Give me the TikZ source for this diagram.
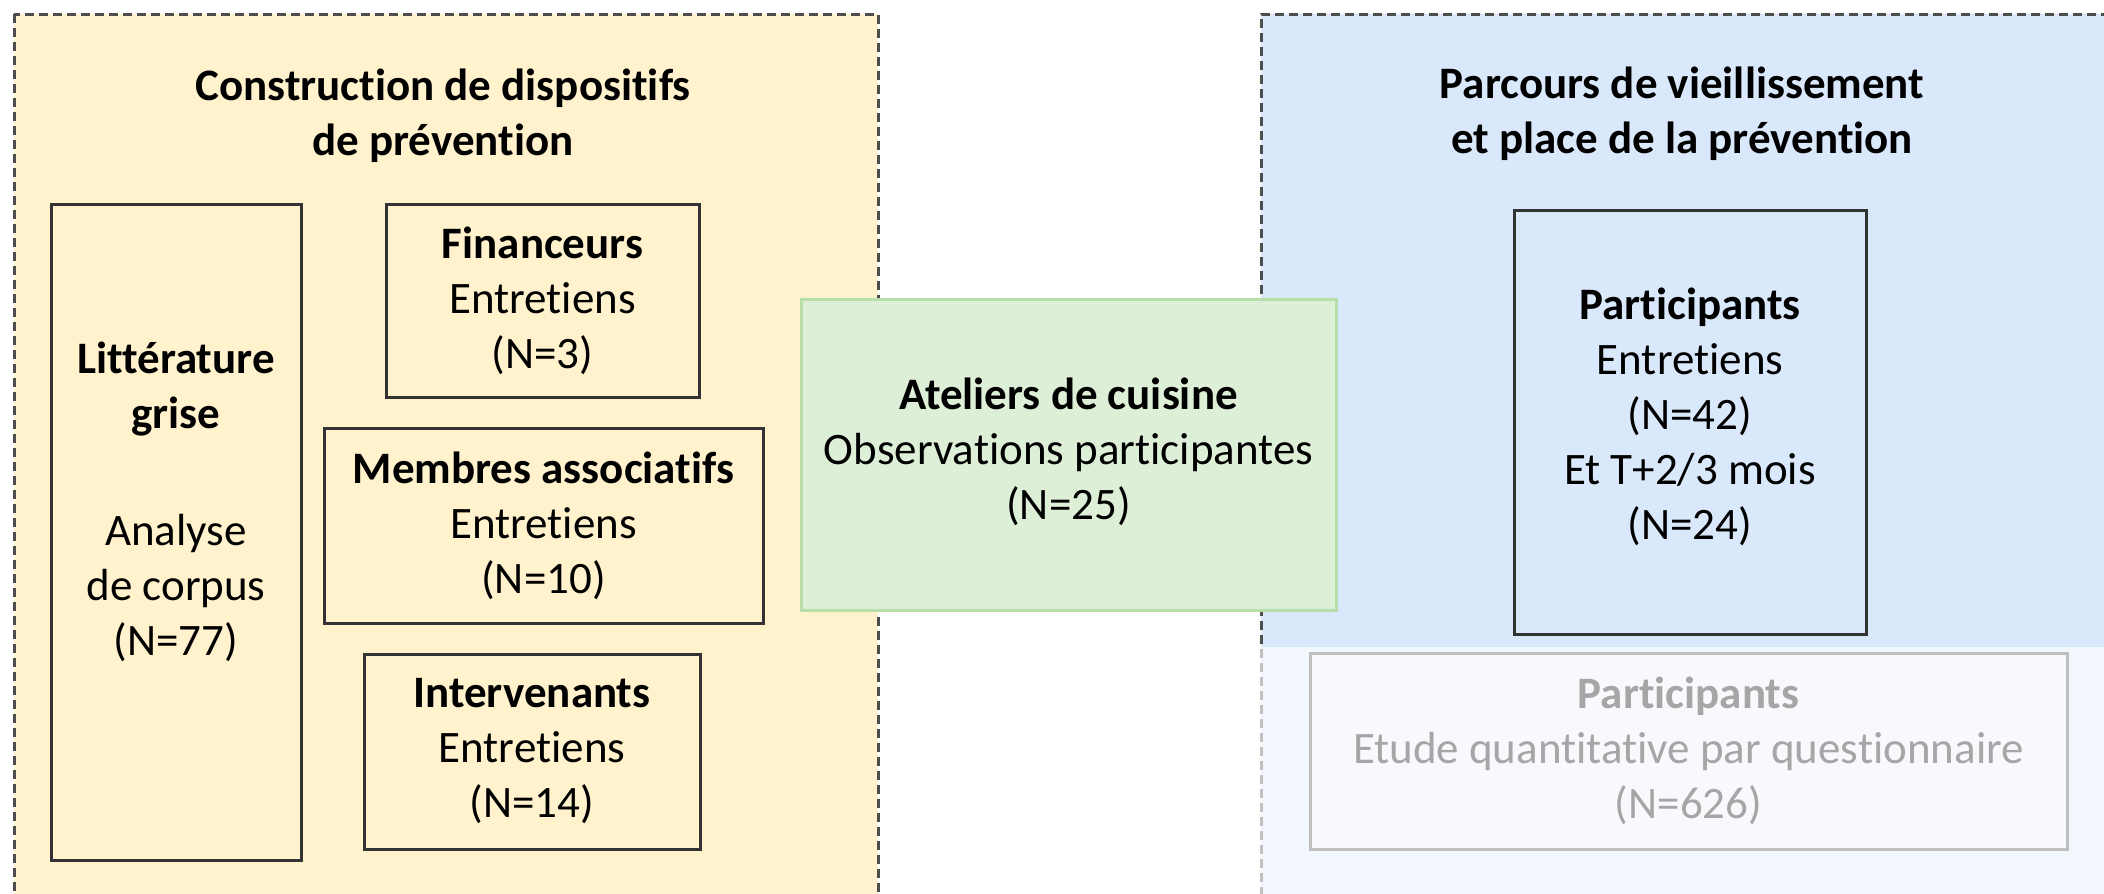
\documentclass[tikz,border=0pt]{standalone}
\usepackage{fontspec}
\setmainfont{Carlito}[Ligatures={NoCommon,NoRare}]
\definecolor{yel}{HTML}{FFF2CC}
\definecolor{blu}{HTML}{DAE8FC}
\definecolor{grnfill}{HTML}{DDEFD6}
\definecolor{grnline}{HTML}{B7DDA8}
\definecolor{dashc}{HTML}{4D4D4D}
\definecolor{boxc}{HTML}{333333}
\definecolor{fadeline}{HTML}{BFBFBF}
\definecolor{fadetext}{HTML}{A6A6A6}
\definecolor{fadefill}{HTML}{F7F9FC}
\tikzset{
  txt/.style={font=\fontsize{45}{55}\selectfont, align=center, inner sep=0pt},
  titletxt/.style={txt, font=\fontsize{45}{55}\selectfont\bfseries},
  zone/.style={draw=dashc, line width=3pt, dash pattern=on 9pt off 5pt},
  framebox/.style={txt, draw=boxc, line width=3pt},
  greenbox/.style={txt, draw=grnline, fill=grnfill, line width=3pt},
  fadebox/.style={txt, draw=fadeline, fill=fadefill, line width=3pt, text=fadetext}
}
\begin{document}
\begin{tikzpicture}[x=1pt,y=-1pt]
\useasboundingbox (0,0) rectangle (2104,894);
\clip (0,0) rectangle (2104,894);
% zones
\draw[zone, fill=yel] (14,14) rectangle (878,910);
\fill[blu] (1261,14) rectangle (2120,910);
\draw[zone] (1261,910) -- (1261,14) -- (2120,14);
\fill[white, opacity=0.65] (1245,647) rectangle (2120,910);
% titles
\node[titletxt] (t1) at (443,116) {Construction de dispositifs\\de prévention};
\node[titletxt] (t2) at (1682,114) {Parcours de vieillissement\\et place de la prévention};
% left boxes
\node[framebox, minimum width=250pt, minimum height=656pt] (lit) at (176,532) {};
\node[txt] (littxt) at (176,501.5) {\textbf{Littérature}\\\textbf{grise}\\[62pt]Analyse\\de corpus\\(N=77)};
\node[framebox, minimum width=313pt, minimum height=193pt] (fin) at (542.5,300.5) {\textbf{Financeurs}\\Entretiens\\(N=3)};
\node[framebox, minimum width=439pt, minimum height=195pt] (mem) at (543.5,525.5) {\textbf{Membres associatifs}\\Entretiens\\(N=10)};
\node[framebox, minimum width=336pt, minimum height=195pt] (int) at (532,751.5) {\textbf{Intervenants}\\Entretiens\\(N=14)};
% centre
\node[greenbox, minimum width=535pt, minimum height=311pt] (ate) at (1068.5,454.5) {};
\node[txt] (atetxt) at (1068.5,452) {\textbf{Ateliers de cuisine}\\Observations participantes\\(N=25)};
% right boxes
\node[framebox, minimum width=352pt, minimum height=424pt] (par) at (1690,422) {};
\node[txt] (partxt) at (1690,417) {\textbf{Participants}\\Entretiens\\(N=42)\\Et T+2/3 mois\\(N=24)};
\node[fadebox, minimum width=757pt, minimum height=196pt] (que) at (1688.5,751) {\textbf{Participants}\\Etude quantitative par questionnaire\\(N=626)};
\end{tikzpicture}
\end{document}
